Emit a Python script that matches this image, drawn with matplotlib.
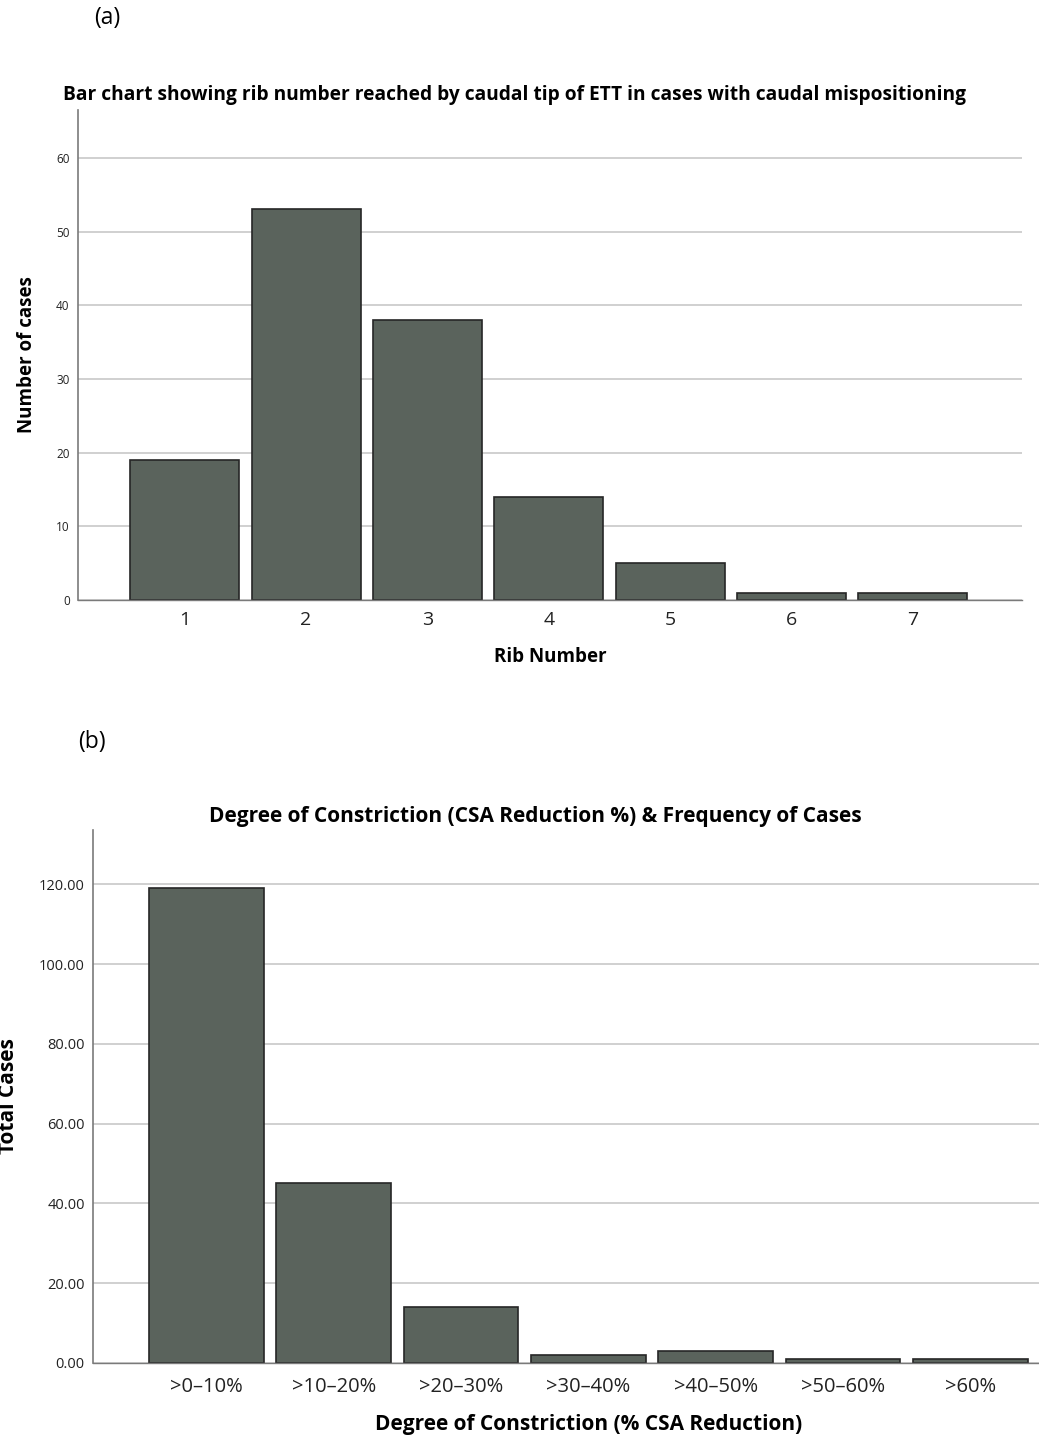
import matplotlib.pyplot as plt
from matplotlib.ticker import FixedLocator

plt.rcParams['font.family'] = ['Open Sans', 'DejaVu Sans']

# data for panel (a)
rib_labels = ['1', '2', '3', '4', '5', '6', '7']
rib_counts = [19, 53, 38, 14, 5, 1, 1]

# data for panel (b)
csa_labels = ['>0\u201310%', '>10\u201320%', '>20\u201330%', '>30\u201340%',
              '>40\u201350%', '>50\u201360%', '>60%']
csa_counts = [119, 45, 14, 2, 3, 1, 1]

BAR = '#5a635c'
EDGE = '#262626'
GRID = '#c8c8c8'
SPINE = '#7a7a7a'
W, H = 1039, 1437


def style_axes(ax):
    for s in ['top', 'right']:
        ax.spines[s].set_visible(False)
    ax.spines['left'].set_color(SPINE)
    ax.spines['bottom'].set_color(SPINE)
    ax.spines['left'].set_linewidth(1.2)
    ax.spines['bottom'].set_linewidth(1.0)
    ax.yaxis.grid(True, color=GRID, linewidth=1.2)
    ax.set_axisbelow(True)
    ax.tick_params(length=0, colors='#222222')


fig = plt.figure(figsize=(W / 100, H / 100), dpi=100)

# panel (a)
ax1 = fig.add_axes([78 / W, 1 - 600 / H, (1022 - 78) / W, (600 - 110) / H])
pos = range(1, len(rib_counts) + 1)
ax1.bar(pos, rib_counts, width=0.9, color=BAR, edgecolor=EDGE, linewidth=1.2)
ax1.set_xlim(0.12, 7.9)
ax1.set_ylim(0, 66.5)
ax1.yaxis.set_major_locator(FixedLocator([0, 10, 20, 30, 40, 50, 60]))
ax1.set_xticks(list(pos))
ax1.set_xticklabels(rib_labels, fontsize=14)
ax1.tick_params(axis='y', labelsize=8.5, pad=6)
ax1.tick_params(axis='x', pad=8)
style_axes(ax1)
ax1.set_xlabel('Rib Number', fontsize=13.5, fontweight='bold', labelpad=13)
ax1.set_ylabel('Number of cases', fontsize=13.5, fontweight='bold', labelpad=14)
ax1.set_title('Bar chart showing rib number reached by caudal tip of ETT in cases with caudal mispositioning',
              fontsize=13.8, fontweight='bold', pad=7, x=0.462)

# panel (b)
ax2 = fig.add_axes([93 / W, 1 - 1363 / H, (1039 - 93) / W, (1363 - 830) / H])
pos2 = range(1, len(csa_counts) + 1)
ax2.bar(pos2, csa_counts, width=0.9, color=BAR, edgecolor=EDGE, linewidth=1.2)
ax2.set_xlim(0.11, 7.54)
ax2.set_ylim(0, 133.6)
ax2.yaxis.set_major_locator(FixedLocator([0, 20, 40, 60, 80, 100, 120]))
ax2.set_yticklabels(['%.2f' % v for v in [0, 20, 40, 60, 80, 100, 120]])
ax2.set_xticks(list(pos2))
ax2.set_xticklabels(csa_labels, fontsize=14.5)
ax2.tick_params(axis='y', labelsize=10.5, pad=6)
ax2.tick_params(axis='x', pad=10)
style_axes(ax2)
ax2.set_xlabel('Degree of Constriction (% CSA Reduction)', fontsize=15, fontweight='bold',
               labelpad=12, x=0.524)
ax2.set_ylabel('Total Cases', fontsize=15, fontweight='bold', labelpad=14)
ax2.set_title('Degree of Constriction (CSA Reduction %) & Frequency of Cases',
              fontsize=15, fontweight='bold', pad=6, x=0.468)

fig.text(107 / W, 1 - 18 / H, '(a)', fontsize=16.5, ha='center', va='center')
fig.text(92 / W, 1 - 742 / H, '(b)', fontsize=16.5, ha='center', va='center')

fig.savefig('out.png', dpi=100)
